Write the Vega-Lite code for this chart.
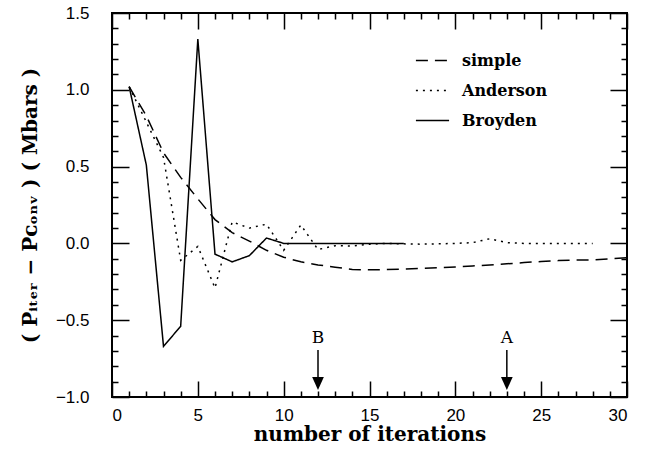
{
  "$schema": "https://vega.github.io/schema/vega-lite/v6.json",
  "width": 515,
  "height": 384,
  "autosize": {"type": "none"},
  "padding": {"left": 112, "top": 13, "right": 22, "bottom": 52},
  "background": "white",
  "config": {
    "view": {"stroke": "black", "strokeWidth": 2}
  },
  "datasets": {
    "curves": [
      {"method": "simple", "iteration": 1, "value": 1.02},
      {"method": "simple", "iteration": 2, "value": 0.83},
      {"method": "simple", "iteration": 3, "value": 0.59},
      {"method": "simple", "iteration": 4, "value": 0.43},
      {"method": "simple", "iteration": 5, "value": 0.29},
      {"method": "simple", "iteration": 6, "value": 0.155},
      {"method": "simple", "iteration": 7, "value": 0.07},
      {"method": "simple", "iteration": 8, "value": 0.015},
      {"method": "simple", "iteration": 9, "value": -0.045},
      {"method": "simple", "iteration": 10, "value": -0.09},
      {"method": "simple", "iteration": 11, "value": -0.12},
      {"method": "simple", "iteration": 12, "value": -0.14},
      {"method": "simple", "iteration": 13, "value": -0.155},
      {"method": "simple", "iteration": 14, "value": -0.17},
      {"method": "simple", "iteration": 15, "value": -0.172},
      {"method": "simple", "iteration": 16, "value": -0.17},
      {"method": "simple", "iteration": 17, "value": -0.167},
      {"method": "simple", "iteration": 18, "value": -0.163},
      {"method": "simple", "iteration": 19, "value": -0.158},
      {"method": "simple", "iteration": 20, "value": -0.153},
      {"method": "simple", "iteration": 21, "value": -0.147},
      {"method": "simple", "iteration": 22, "value": -0.14},
      {"method": "simple", "iteration": 23, "value": -0.133},
      {"method": "simple", "iteration": 24, "value": -0.125},
      {"method": "simple", "iteration": 25, "value": -0.118},
      {"method": "simple", "iteration": 26, "value": -0.112},
      {"method": "simple", "iteration": 27, "value": -0.108},
      {"method": "simple", "iteration": 28, "value": -0.108},
      {"method": "simple", "iteration": 29, "value": -0.1},
      {"method": "simple", "iteration": 30, "value": -0.093},
      {"method": "Anderson", "iteration": 1, "value": 1.02},
      {"method": "Anderson", "iteration": 2, "value": 0.79},
      {"method": "Anderson", "iteration": 3, "value": 0.56},
      {"method": "Anderson", "iteration": 4, "value": -0.11},
      {"method": "Anderson", "iteration": 5, "value": -0.02},
      {"method": "Anderson", "iteration": 6, "value": -0.29},
      {"method": "Anderson", "iteration": 7, "value": 0.14},
      {"method": "Anderson", "iteration": 8, "value": 0.1},
      {"method": "Anderson", "iteration": 9, "value": 0.125},
      {"method": "Anderson", "iteration": 10, "value": -0.045},
      {"method": "Anderson", "iteration": 11, "value": 0.12},
      {"method": "Anderson", "iteration": 12, "value": -0.04},
      {"method": "Anderson", "iteration": 13, "value": -0.015},
      {"method": "Anderson", "iteration": 14, "value": -0.017},
      {"method": "Anderson", "iteration": 15, "value": -0.005},
      {"method": "Anderson", "iteration": 16, "value": 0.0},
      {"method": "Anderson", "iteration": 17, "value": -0.003},
      {"method": "Anderson", "iteration": 18, "value": -0.005},
      {"method": "Anderson", "iteration": 19, "value": -0.003},
      {"method": "Anderson", "iteration": 20, "value": 0.0},
      {"method": "Anderson", "iteration": 21, "value": 0.005},
      {"method": "Anderson", "iteration": 22, "value": 0.03},
      {"method": "Anderson", "iteration": 23, "value": 0.005},
      {"method": "Anderson", "iteration": 24, "value": 0.0},
      {"method": "Anderson", "iteration": 25, "value": 0.0},
      {"method": "Anderson", "iteration": 26, "value": 0.0},
      {"method": "Anderson", "iteration": 27, "value": 0.0},
      {"method": "Anderson", "iteration": 28, "value": 0.0},
      {"method": "Broyden", "iteration": 1, "value": 1.02},
      {"method": "Broyden", "iteration": 2, "value": 0.51},
      {"method": "Broyden", "iteration": 3, "value": -0.67},
      {"method": "Broyden", "iteration": 4, "value": -0.54},
      {"method": "Broyden", "iteration": 5, "value": 1.33},
      {"method": "Broyden", "iteration": 6, "value": -0.07},
      {"method": "Broyden", "iteration": 7, "value": -0.12},
      {"method": "Broyden", "iteration": 8, "value": -0.08},
      {"method": "Broyden", "iteration": 9, "value": 0.035},
      {"method": "Broyden", "iteration": 10, "value": 0.0},
      {"method": "Broyden", "iteration": 11, "value": 0.0},
      {"method": "Broyden", "iteration": 12, "value": 0.0},
      {"method": "Broyden", "iteration": 13, "value": 0.0},
      {"method": "Broyden", "iteration": 14, "value": 0.0},
      {"method": "Broyden", "iteration": 15, "value": 0.0},
      {"method": "Broyden", "iteration": 16, "value": 0.0},
      {"method": "Broyden", "iteration": 17, "value": 0.0}
    ],
    "marks": [
      {"label": "B", "iteration": 12},
      {"label": "A", "iteration": 23}
    ]
  },
  "layer": [
    {
      "data": {"name": "curves"},
      "mark": {"type": "line", "color": "black", "strokeWidth": 1.5},
      "encoding": {
        "x": {
          "field": "iteration", "type": "quantitative",
          "scale": {"domain": [0, 30], "nice": false, "zero": false},
          "axis": {
            "orient": "bottom",
            "values": [0,1,2,3,4,5,6,7,8,9,10,11,12,13,14,15,16,17,18,19,20,21,22,23,24,25,26,27,28,29,30],
            "domain": false, "ticks": false,
            "grid": true, "gridColor": "black", "gridOpacity": 1, "gridWidth": 1.5,
            "gridDash": {"condition": {"test": "datum.value % 5 === 0", "value": [16, 352, 16, 0]}, "value": [6, 372, 6, 0]},
            "labelExpr": "datum.value % 5 === 0 ? datum.label : ''",
            "labelOverlap": false,
            "labelFont": "Liberation Sans", "labelFontSize": 17, "labelPadding": 10, "labelColor": "black",
            "title": "number of iterations",
            "titleFont": "DejaVu Serif", "titleFontWeight": "bold", "titleFontSize": 20, "titleColor": "black",
            "titlePadding": 1
          }
        },
        "y": {
          "field": "value", "type": "quantitative",
          "scale": {"domain": [-1, 1.5], "nice": false, "zero": false},
          "axis": {
            "orient": "left",
            "values": [-1,-0.9,-0.8,-0.7,-0.6,-0.5,-0.4,-0.3,-0.2,-0.1,0,0.1,0.2,0.3,0.4,0.5,0.6,0.7,0.8,0.9,1,1.1,1.2,1.3,1.4,1.5],
            "format": ".1f",
            "domain": false, "ticks": false,
            "grid": true, "gridColor": "black", "gridOpacity": 1, "gridWidth": 1.5,
            "gridDash": {"condition": {"test": "abs(round(datum.value * 10)) % 5 === 0", "value": [17, 481, 17, 0]}, "value": [6, 503, 6, 0]},
            "labelExpr": "abs(round(datum.value * 10)) % 5 === 0 ? datum.label : ''",
            "labelOverlap": false,
            "labelFont": "Liberation Sans", "labelFontSize": 17, "labelPadding": 23, "labelColor": "black",
            "title": "( Pᵢₜₑᵣ − Pᴄₒₙᵥ )  ( Mbars )",
            "titleFont": "DejaVu Serif", "titleFontWeight": "bold", "titleFontSize": 20, "titleColor": "black",
            "titlePadding": 15
          }
        },
        "strokeDash": {
          "field": "method", "type": "nominal",
          "scale": {"domain": ["simple", "Anderson", "Broyden"], "range": [[12, 7], [2, 5], [1, 0]]},
          "legend": {
            "orient": "none", "legendX": 303, "legendY": 30,
            "title": null, "symbolType": "stroke", "symbolSize": 1100,
            "symbolStrokeWidth": 1.5, "symbolStrokeColor": "black",
            "labelFont": "DejaVu Serif", "labelFontWeight": "bold", "labelFontSize": 16,
            "labelColor": "black", "labelOffset": 12, "rowPadding": 4
          }
        }
      }
    },
    {
      "data": {"name": "marks"},
      "mark": {"type": "rule", "color": "black", "strokeWidth": 1.5},
      "encoding": {
        "x": {
          "field": "iteration", "type": "quantitative",
          "scale": {"domain": [0, 30], "nice": false, "zero": false},
          "axis": {
            "orient": "bottom",
            "values": [0,1,2,3,4,5,6,7,8,9,10,11,12,13,14,15,16,17,18,19,20,21,22,23,24,25,26,27,28,29,30],
            "domain": false, "ticks": false,
            "grid": true, "gridColor": "black", "gridOpacity": 1, "gridWidth": 1.5,
            "gridDash": {"condition": {"test": "datum.value % 5 === 0", "value": [16, 352, 16, 0]}, "value": [6, 372, 6, 0]},
            "labelExpr": "datum.value % 5 === 0 ? datum.label : ''",
            "labelOverlap": false,
            "labelFont": "Liberation Sans", "labelFontSize": 17, "labelPadding": 10, "labelColor": "black",
            "title": "number of iterations",
            "titleFont": "DejaVu Serif", "titleFontWeight": "bold", "titleFontSize": 20, "titleColor": "black",
            "titlePadding": 1
          }
        },
        "y": {
          "datum": -0.694, "type": "quantitative",
          "scale": {"domain": [-1, 1.5], "nice": false, "zero": false},
          "axis": {
            "orient": "left",
            "values": [-1,-0.9,-0.8,-0.7,-0.6,-0.5,-0.4,-0.3,-0.2,-0.1,0,0.1,0.2,0.3,0.4,0.5,0.6,0.7,0.8,0.9,1,1.1,1.2,1.3,1.4,1.5],
            "format": ".1f",
            "domain": false, "ticks": false,
            "grid": true, "gridColor": "black", "gridOpacity": 1, "gridWidth": 1.5,
            "gridDash": {"condition": {"test": "abs(round(datum.value * 10)) % 5 === 0", "value": [17, 481, 17, 0]}, "value": [6, 503, 6, 0]},
            "labelExpr": "abs(round(datum.value * 10)) % 5 === 0 ? datum.label : ''",
            "labelOverlap": false,
            "labelFont": "Liberation Sans", "labelFontSize": 17, "labelPadding": 23, "labelColor": "black",
            "title": "( Pᵢₜₑᵣ − Pᴄₒₙᵥ )  ( Mbars )",
            "titleFont": "DejaVu Serif", "titleFontWeight": "bold", "titleFontSize": 20, "titleColor": "black",
            "titlePadding": 15
          }
        },
        "y2": {"datum": -0.87}
      }
    },
    {
      "data": {"name": "marks"},
      "mark": {"type": "point", "shape": "M-0.9,-1L0.9,-1L0,1Z", "size": 169, "filled": true, "color": "black", "opacity": 1, "strokeWidth": 0},
      "encoding": {
        "x": {
          "field": "iteration", "type": "quantitative",
          "scale": {"domain": [0, 30], "nice": false, "zero": false},
          "axis": {
            "orient": "bottom",
            "values": [0,1,2,3,4,5,6,7,8,9,10,11,12,13,14,15,16,17,18,19,20,21,22,23,24,25,26,27,28,29,30],
            "domain": false, "ticks": false,
            "grid": true, "gridColor": "black", "gridOpacity": 1, "gridWidth": 1.5,
            "gridDash": {"condition": {"test": "datum.value % 5 === 0", "value": [16, 352, 16, 0]}, "value": [6, 372, 6, 0]},
            "labelExpr": "datum.value % 5 === 0 ? datum.label : ''",
            "labelOverlap": false,
            "labelFont": "Liberation Sans", "labelFontSize": 17, "labelPadding": 10, "labelColor": "black",
            "title": "number of iterations",
            "titleFont": "DejaVu Serif", "titleFontWeight": "bold", "titleFontSize": 20, "titleColor": "black",
            "titlePadding": 1
          }
        },
        "y": {
          "datum": -0.912, "type": "quantitative",
          "scale": {"domain": [-1, 1.5], "nice": false, "zero": false},
          "axis": {
            "orient": "left",
            "values": [-1,-0.9,-0.8,-0.7,-0.6,-0.5,-0.4,-0.3,-0.2,-0.1,0,0.1,0.2,0.3,0.4,0.5,0.6,0.7,0.8,0.9,1,1.1,1.2,1.3,1.4,1.5],
            "format": ".1f",
            "domain": false, "ticks": false,
            "grid": true, "gridColor": "black", "gridOpacity": 1, "gridWidth": 1.5,
            "gridDash": {"condition": {"test": "abs(round(datum.value * 10)) % 5 === 0", "value": [17, 481, 17, 0]}, "value": [6, 503, 6, 0]},
            "labelExpr": "abs(round(datum.value * 10)) % 5 === 0 ? datum.label : ''",
            "labelOverlap": false,
            "labelFont": "Liberation Sans", "labelFontSize": 17, "labelPadding": 23, "labelColor": "black",
            "title": "( Pᵢₜₑᵣ − Pᴄₒₙᵥ )  ( Mbars )",
            "titleFont": "DejaVu Serif", "titleFontWeight": "bold", "titleFontSize": 20, "titleColor": "black",
            "titlePadding": 15
          }
        }
      }
    },
    {
      "data": {"name": "marks"},
      "mark": {"type": "text", "font": "DejaVu Serif", "fontSize": 17, "baseline": "middle", "align": "center", "color": "black"},
      "encoding": {
        "x": {
          "field": "iteration", "type": "quantitative",
          "scale": {"domain": [0, 30], "nice": false, "zero": false},
          "axis": {
            "orient": "bottom",
            "values": [0,1,2,3,4,5,6,7,8,9,10,11,12,13,14,15,16,17,18,19,20,21,22,23,24,25,26,27,28,29,30],
            "domain": false, "ticks": false,
            "grid": true, "gridColor": "black", "gridOpacity": 1, "gridWidth": 1.5,
            "gridDash": {"condition": {"test": "datum.value % 5 === 0", "value": [16, 352, 16, 0]}, "value": [6, 372, 6, 0]},
            "labelExpr": "datum.value % 5 === 0 ? datum.label : ''",
            "labelOverlap": false,
            "labelFont": "Liberation Sans", "labelFontSize": 17, "labelPadding": 10, "labelColor": "black",
            "title": "number of iterations",
            "titleFont": "DejaVu Serif", "titleFontWeight": "bold", "titleFontSize": 20, "titleColor": "black",
            "titlePadding": 1
          }
        },
        "y": {
          "datum": -0.613, "type": "quantitative",
          "scale": {"domain": [-1, 1.5], "nice": false, "zero": false},
          "axis": {
            "orient": "left",
            "values": [-1,-0.9,-0.8,-0.7,-0.6,-0.5,-0.4,-0.3,-0.2,-0.1,0,0.1,0.2,0.3,0.4,0.5,0.6,0.7,0.8,0.9,1,1.1,1.2,1.3,1.4,1.5],
            "format": ".1f",
            "domain": false, "ticks": false,
            "grid": true, "gridColor": "black", "gridOpacity": 1, "gridWidth": 1.5,
            "gridDash": {"condition": {"test": "abs(round(datum.value * 10)) % 5 === 0", "value": [17, 481, 17, 0]}, "value": [6, 503, 6, 0]},
            "labelExpr": "abs(round(datum.value * 10)) % 5 === 0 ? datum.label : ''",
            "labelOverlap": false,
            "labelFont": "Liberation Sans", "labelFontSize": 17, "labelPadding": 23, "labelColor": "black",
            "title": "( Pᵢₜₑᵣ − Pᴄₒₙᵥ )  ( Mbars )",
            "titleFont": "DejaVu Serif", "titleFontWeight": "bold", "titleFontSize": 20, "titleColor": "black",
            "titlePadding": 15
          }
        },
        "text": {"field": "label"}
      }
    }
  ]
}
